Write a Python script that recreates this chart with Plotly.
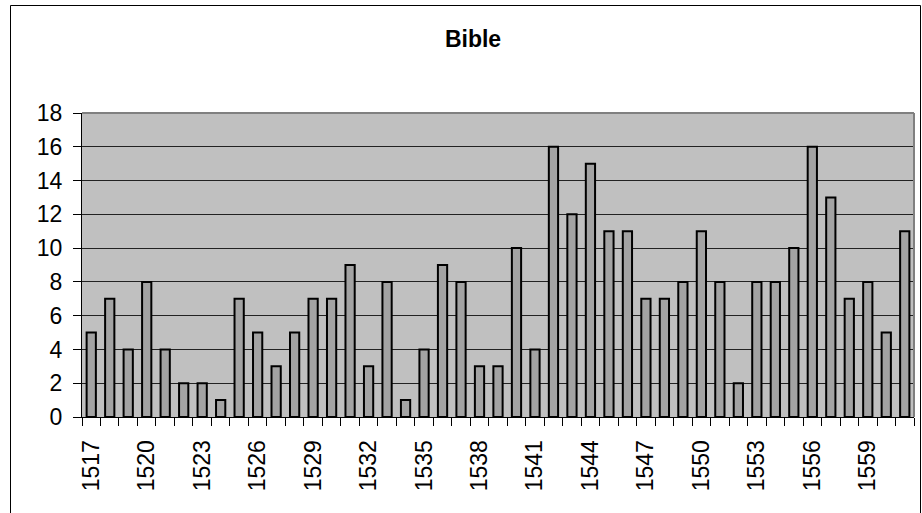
import plotly.graph_objects as go

years = list(range(1517, 1562))
counts = [5, 7, 4, 8, 4, 2, 2, 1, 7, 5, 3, 5, 7, 7, 9, 3, 8, 1, 4, 9, 8, 3, 3, 10, 4,
          16, 12, 15, 11, 11, 7, 7, 8, 11, 8, 2, 8, 8, 10, 16, 13, 7, 8, 5, 11]
label_years = list(range(1517, 1562, 3))
y_ticks = list(range(0, 19, 2))

FONT = "Arial, 'Liberation Sans', sans-serif"

fig = go.Figure(go.Bar(
    x=years, y=counts,
    marker=dict(color="#A3A3A3", line=dict(color="black", width=2)),
    width=0.5,
))

W, H = 922, 513
L, R, T, B = 82, 8, 113, 96
pw, ph = W - L - R, H - T - B

def px_to_paper_x(px):
    return (px - L) / pw

def px_to_paper_y(py):
    return (H - B - py) / ph

fig.update_layout(
    width=W, height=H,
    margin=dict(l=L, r=R, t=T, b=B, autoexpand=False),
    paper_bgcolor="white",
    plot_bgcolor="#C0C0C0",
    showlegend=False,
    font=dict(family=FONT, color="black", size=23),
    title=dict(text="<b>Bible</b>", x=473 / W, xref="container", xanchor="center",
               y=1 - 39 / H, yref="container", yanchor="middle",
               font=dict(family=FONT, size=23, color="black")),
    xaxis=dict(
        range=[1516.5, 1561.5],
        tickmode="array", tickvals=label_years, ticktext=[str(v) for v in label_years],
        ticks="", tickangle=-90, showgrid=False, zeroline=False,
        showline=True, linecolor="black", linewidth=1,
        ticklabelstandoff=13,
        minor=dict(tickmode="array", tickvals=[y - 0.5 for y in years] + [1561.5],
                   ticks="outside", ticklen=8, tickcolor="black", tickwidth=1,
                   showgrid=False),
        tickfont=dict(size=23),
    ),
    yaxis=dict(
        range=[0, 18], tickmode="array", tickvals=y_ticks,
        ticks="outside", ticklen=8, tickcolor="black",
        showgrid=True, gridcolor="#222222", gridwidth=1, zeroline=False,
        showline=True, linecolor="black", linewidth=1,
        ticklabelstandoff=6,
        tickfont=dict(size=23),
    ),
    shapes=[
        dict(type="line", xref="paper", yref="paper", x0=0, x1=1, y0=1, y1=1,
             line=dict(color="#808080", width=2)),
        dict(type="line", xref="paper", yref="paper", x0=1, x1=1, y0=0, y1=1,
             line=dict(color="#808080", width=2)),
        dict(type="rect", xref="paper", yref="paper",
             x0=px_to_paper_x(10.5), x1=px_to_paper_x(920.5),
             y0=px_to_paper_y(530), y1=px_to_paper_y(5.5),
             line=dict(color="black", width=1), layer="below"),
    ],
)

fig.write_html("out.html", config={"displayModeBar": False},
               post_script="document.body.style.margin='0';document.body.style.overflow='hidden';")
